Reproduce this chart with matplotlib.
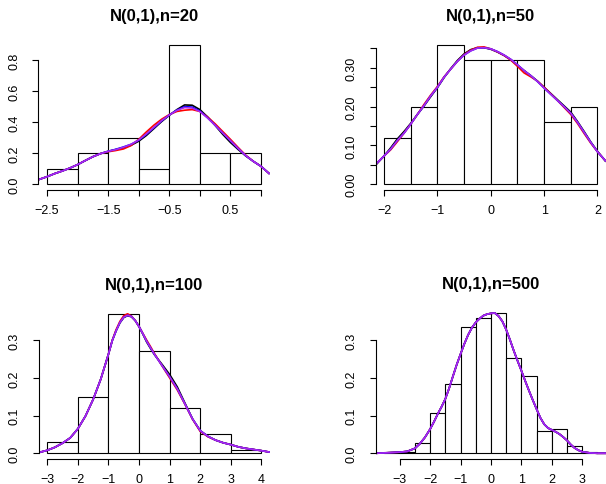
import matplotlib
matplotlib.use("Agg")
import matplotlib.pyplot as plt

plt.rcParams['font.family'] = ['Liberation Sans', 'DejaVu Sans']

# ---------------- data ----------------
titles = ["N(0,1),n=20", "N(0,1),n=50", "N(0,1),n=100", "N(0,1),n=500"]

# histogram breaks and densities
breaks1 = [-2.5, -2.0, -1.5, -1.0, -0.5, 0.0, 0.5, 1.0]
dens1 = [0.10, 0.20, 0.30, 0.10, 0.90, 0.20, 0.20]

breaks2 = [-2.0, -1.5, -1.0, -0.5, 0.0, 0.5, 1.0, 1.5, 2.0]
dens2 = [0.12, 0.20, 0.36, 0.32, 0.32, 0.32, 0.16, 0.20]

breaks3 = [-3, -2, -1, 0, 1, 2, 3, 4]
dens3 = [0.03, 0.15, 0.37, 0.27, 0.12, 0.05, 0.01]

breaks4 = [-3.5, -3.0, -2.5, -2.0, -1.5, -1.0, -0.5, 0.0, 0.5, 1.0, 1.5, 2.0, 2.5, 3.0, 3.5]
dens4 = [0.004, 0.004, 0.028, 0.108, 0.184, 0.336, 0.360, 0.372, 0.252, 0.204, 0.060, 0.064, 0.020, 0.004]

# density curves
kx1 = [-2.64, -2.5, -2.375, -2.25, -2.125, -2.0, -1.875, -1.75, -1.625, -1.5, -1.375, -1.25,
       -1.125, -1.0, -0.875, -0.75, -0.625, -0.5, -0.375, -0.25, -0.125, 0.0, 0.125, 0.25,
       0.375, 0.5, 0.625, 0.75, 0.875, 1.0, 1.14]
k1_black = [0.030, 0.049, 0.069, 0.086, 0.105, 0.127, 0.153, 0.178, 0.198, 0.213, 0.224, 0.236,
            0.252, 0.278, 0.315, 0.360, 0.405, 0.445, 0.482, 0.512, 0.510, 0.482, 0.435, 0.380,
            0.322, 0.270, 0.225, 0.183, 0.148, 0.116, 0.067]
k1_red = [0.030, 0.049, 0.069, 0.086, 0.105, 0.127, 0.153, 0.178, 0.198, 0.210, 0.218, 0.228,
          0.250, 0.290, 0.338, 0.382, 0.420, 0.450, 0.470, 0.478, 0.482, 0.470, 0.435, 0.390,
          0.340, 0.290, 0.238, 0.188, 0.148, 0.116, 0.067]
k1_blue = [0.030, 0.049, 0.069, 0.086, 0.105, 0.127, 0.153, 0.178, 0.198, 0.213, 0.226, 0.241,
           0.258, 0.284, 0.322, 0.365, 0.409, 0.447, 0.479, 0.501, 0.498, 0.473, 0.430, 0.381,
           0.330, 0.280, 0.231, 0.185, 0.148, 0.116, 0.067]
k1_purple = [0.030, 0.049, 0.069, 0.086, 0.105, 0.127, 0.153, 0.178, 0.198, 0.213, 0.224, 0.239,
             0.258, 0.286, 0.325, 0.368, 0.411, 0.447, 0.477, 0.495, 0.492, 0.469, 0.428, 0.381,
             0.331, 0.282, 0.232, 0.185, 0.148, 0.116, 0.067]

kx2 = [-2.16, -2.0, -1.875, -1.75, -1.625, -1.5, -1.375, -1.25, -1.125, -1.0, -0.875, -0.75,
       -0.625, -0.5, -0.375, -0.25, -0.125, 0.0, 0.125, 0.25, 0.375, 0.5, 0.625, 0.75, 0.875,
       1.0, 1.125, 1.25, 1.375, 1.5, 1.625, 1.75, 1.875, 2.0, 2.16]
k2_black = [0.049, 0.073, 0.094, 0.117, 0.136, 0.157, 0.180, 0.202, 0.226, 0.249, 0.275, 0.298,
            0.319, 0.336, 0.347, 0.352, 0.352, 0.348, 0.341, 0.332, 0.321, 0.307, 0.293, 0.280,
            0.266, 0.250, 0.234, 0.218, 0.202, 0.186, 0.162, 0.136, 0.109, 0.085, 0.058]
k2_red = [0.051, 0.073, 0.089, 0.110, 0.132, 0.155, 0.180, 0.206, 0.230, 0.252, 0.277, 0.297,
          0.317, 0.334, 0.346, 0.353, 0.354, 0.349, 0.341, 0.332, 0.320, 0.304, 0.287, 0.277,
          0.266, 0.250, 0.233, 0.216, 0.198, 0.180, 0.157, 0.131, 0.106, 0.084, 0.059]
k2_purple = [0.051, 0.073, 0.091, 0.113, 0.132, 0.155, 0.180, 0.203, 0.228, 0.250, 0.276, 0.297,
             0.317, 0.333, 0.344, 0.351, 0.352, 0.349, 0.342, 0.333, 0.322, 0.308, 0.293, 0.280,
             0.265, 0.248, 0.232, 0.216, 0.200, 0.183, 0.160, 0.134, 0.108, 0.084, 0.059]

kx3 = [-3.28, -3.0, -2.75, -2.5, -2.25, -2.0, -1.75, -1.5, -1.25, -1.0, -0.875, -0.75, -0.625,
       -0.5, -0.375, -0.25, -0.125, 0.0, 0.125, 0.25, 0.375, 0.5, 0.75, 1.0, 1.25, 1.5, 1.75,
       2.0, 2.25, 2.5, 2.75, 3.0, 3.25, 3.5, 3.75, 4.0, 4.28]
k3_black = [0.002, 0.008, 0.016, 0.027, 0.041, 0.065, 0.099, 0.143, 0.197, 0.263, 0.299, 0.325,
            0.346, 0.360, 0.365, 0.362, 0.352, 0.336, 0.316, 0.295, 0.278, 0.262, 0.236, 0.209,
            0.176, 0.133, 0.091, 0.060, 0.045, 0.035, 0.028, 0.023, 0.017, 0.013, 0.010, 0.007, 0.003]
k3_red = [0.002, 0.008, 0.016, 0.027, 0.041, 0.065, 0.099, 0.143, 0.197, 0.263, 0.300, 0.328,
          0.350, 0.365, 0.370, 0.364, 0.352, 0.336, 0.318, 0.300, 0.283, 0.265, 0.232, 0.200,
          0.168, 0.130, 0.090, 0.058, 0.044, 0.035, 0.028, 0.023, 0.017, 0.013, 0.010, 0.007, 0.003]
k3_purple = [0.002, 0.008, 0.016, 0.027, 0.041, 0.065, 0.099, 0.143, 0.197, 0.263, 0.299, 0.325,
             0.347, 0.361, 0.366, 0.363, 0.352, 0.336, 0.317, 0.297, 0.280, 0.263, 0.233, 0.203,
             0.171, 0.131, 0.091, 0.060, 0.045, 0.035, 0.028, 0.023, 0.017, 0.013, 0.010, 0.007, 0.003]

kx4 = [-3.78, -3.5, -3.25, -3.0, -2.75, -2.5, -2.34, -2.17, -2.0, -1.875, -1.75, -1.625, -1.5,
       -1.375, -1.25, -1.125, -1.0, -0.875, -0.75, -0.625, -0.5, -0.375, -0.25, -0.125, 0.0,
       0.125, 0.25, 0.375, 0.5, 0.625, 0.75, 0.875, 1.0, 1.125, 1.25, 1.375, 1.5, 1.625, 1.75,
       1.875, 2.0, 2.125, 2.25, 2.375, 2.5, 2.625, 2.75, 2.875, 3.0, 3.25, 3.5, 3.78]
k4_purple = [0.000, 0.001, 0.002, 0.003, 0.005, 0.013, 0.025, 0.042, 0.064, 0.083, 0.104, 0.123,
             0.144, 0.172, 0.204, 0.235, 0.263, 0.290, 0.314, 0.333, 0.347, 0.357, 0.365, 0.369,
             0.371, 0.372, 0.364, 0.350, 0.328, 0.301, 0.272, 0.245, 0.219, 0.192, 0.166, 0.141,
             0.117, 0.094, 0.077, 0.067, 0.062, 0.057, 0.051, 0.043, 0.034, 0.023, 0.014, 0.008,
             0.004, 0.001, 0.000, 0.000]

xticks1 = [-2.5, -2.0, -1.5, -1.0, -0.5, 0.0, 0.5, 1.0]
xlabels1 = ["-2.5", "", "-1.5", "", "-0.5", "", "0.5", ""]
yticks1 = [0.0, 0.2, 0.4, 0.6, 0.8]
ylabels1 = ["0.0", "0.2", "0.4", "0.6", "0.8"]

xticks2 = [-2, -1, 0, 1, 2]
xlabels2 = ["-2", "-1", "0", "1", "2"]
yticks2 = [0.00, 0.05, 0.10, 0.15, 0.20, 0.25, 0.30, 0.35]
ylabels2 = ["0.00", "", "0.10", "", "0.20", "", "0.30", ""]

xticks3 = [-3, -2, -1, 0, 1, 2, 3, 4]
xlabels3 = ["-3", "-2", "-1", "0", "1", "2", "3", "4"]
yticks3 = [0.0, 0.1, 0.2, 0.3]
ylabels3 = ["0.0", "0.1", "0.2", "0.3"]

xticks4 = [-3, -2, -1, 0, 1, 2, 3]
xlabels4 = ["-3", "-2", "-1", "0", "1", "2", "3"]
yticks4 = [0.0, 0.1, 0.2, 0.3]
ylabels4 = ["0.0", "0.1", "0.2", "0.3"]

# ---------------- drawing ----------------
W, H = 606, 485
fig = plt.figure(figsize=(W / 100, H / 100), dpi=100)

def px_axes(l, t, r, b):
    return fig.add_axes([l / W, 1 - b / H, (r - l) / W, (b - t) / H])

PURPLE = "#A828F0"

panels = [
    (px_axes(38.4, 40.2, 269.6, 190.9), breaks1, dens1, kx1,
     [("black", k1_black), ("red", k1_red), ("blue", k1_blue), (PURPLE, k1_purple)],
     xticks1, xlabels1, yticks1, ylabels1, titles[0]),
    (px_axes(375.5, 40.0, 606.0, 190.9), breaks2, dens2, kx2,
     [("black", k2_black), ("red", k2_red), ("blue", k2_purple), (PURPLE, k2_purple)],
     xticks2, xlabels2, yticks2, ylabels2, titles[1]),
    (px_axes(38.7, 309.2, 270.0, 459.9), breaks3, dens3, kx3,
     [("black", k3_black), ("red", k3_red), ("blue", k3_purple), (PURPLE, k3_purple)],
     xticks3, xlabels3, yticks3, ylabels3, titles[2]),
    (px_axes(375.9, 308.4, 606.0, 459.9), breaks4, dens4, kx4,
     [("black", k4_purple), ("red", k4_purple), ("blue", k4_purple), (PURPLE, k4_purple)],
     xticks4, xlabels4, yticks4, ylabels4, titles[3]),
]

for ax, br, dn, kx, curves, xt, xl, yt, yl, title in panels:
    lefts = br[:-1]
    widths = [b - a for a, b in zip(br[:-1], br[1:])]
    ax.bar(lefts, dn, width=widths, align="edge", color="white",
           edgecolor="black", linewidth=0.8, zorder=1)
    for col, ky in curves:
        ax.plot(kx, ky, color=col, lw=1.2, zorder=2, solid_capstyle="butt")
    xr = br[-1] - br[0]
    ax.set_xlim(br[0] - 0.04 * xr, br[-1] + 0.04 * xr)
    ym = max(dn)
    ax.set_ylim(-0.04 * ym, ym * 1.04)
    for s in ("top", "right"):
        ax.spines[s].set_visible(False)
    ax.spines["left"].set_bounds(yt[0], yt[-1])
    ax.spines["bottom"].set_bounds(xt[0], xt[-1])
    ax.spines["left"].set_linewidth(0.8)
    ax.spines["bottom"].set_linewidth(0.8)
    ax.set_xticks(xt)
    ax.set_xticklabels([s.replace("-", "\u2212") for s in xl], fontsize=9)
    ax.set_yticks(yt)
    ax.set_yticklabels(yl, fontsize=9, rotation=90, va="center")
    ax.tick_params(axis="both", direction="out", length=4, width=0.8)
    ax.tick_params(axis="x", pad=6)
    ax.tick_params(axis="y", pad=9)
    ax.set_facecolor("none")
    ax.set_title(title, fontsize=12, fontweight="bold", pad=14)

fig.savefig("out.png", dpi=100)
